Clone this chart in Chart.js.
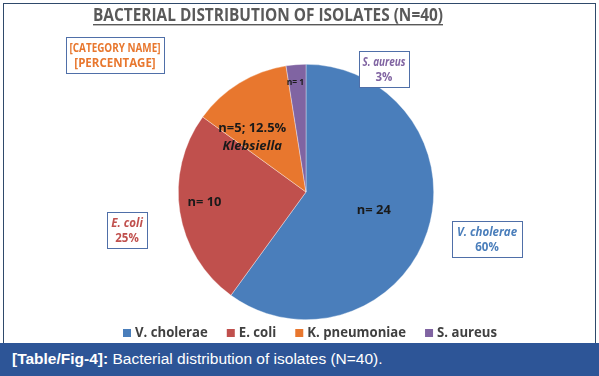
<!DOCTYPE html>
<html>
<head>
<meta charset="utf-8">
<script src="https://cdn.jsdelivr.net/npm/chart.js@4"></script>
<style>
  html, body { margin: 0; padding: 0; background: #fff; }
  #wrap { position: relative; width: 599px; height: 376px; overflow: hidden; }
  #frame { position: absolute; left: 3px; top: 3px; width: 591px; height: 340px; border: 1px solid #2f4a6b; border-bottom: none; pointer-events: none; }
  #chart { position: absolute; left: 0; top: 0; }
  #caption { position: absolute; left: 0; top: 343px; width: 599px; height: 33px; background: #2d5597; color: #fff;
    font: 15.5px "Liberation Sans", Arial, sans-serif; line-height: 31px; padding-left: 12px; box-sizing: border-box; }
  #caption b { font-weight: bold; }
</style>
</head>
<body>
<div id="wrap">
  <canvas id="chart" width="599" height="343"></canvas>
  <div id="frame"></div>
  <div id="caption"><b>[Table/Fig-4]:</b> Bacterial distribution of isolates (N=40).</div>
</div>
<script>
// bacterial isolates, counts out of N=40
const species = ["V. cholerae", "E. coli", "K. pneumoniae", "S. aureus"];
const counts = [24, 10, 5, 1];
const colors = ["#4a7ebb", "#c0504d", "#e8772e", "#8064a2"];

const FONT = "'Open Sans', 'Noto Sans', sans-serif";

function pct(i) {
  const total = counts.reduce((a, b) => a + b, 0);
  return counts[i] / total * 100;
}

// labels inside slices: [radius fraction, angle shift in degrees]
const inside = [
  { lines: [["n= " + counts[0], "bold 13px"]], at: [0.55, -3] },
  { lines: [["n= " + counts[1], "bold 13px"]], at: [0.8, 3] },
  { lines: [["n=" + counts[2] + "; " + pct(2).toFixed(1) + "%", "bold 13px"], ["Klebsiella", "italic bold 13px"]], at: [0.6, -13] },
  { lines: [["n= " + counts[3], "bold 8.5px"]], at: [0.86, -1] },
];

// callout boxes: x, y, w, h
const callouts = [
  { idx: 0, box: [452, 221, 70, 36], name: species[0] },
  { idx: 1, box: [107, 212, 40, 36], name: species[1] },
  { idx: 2, box: [66, 37, 98, 36], name: "[CATEGORY NAME]", perc: "[PERCENTAGE]", upright: true },
  { idx: 3, box: [359, 51, 50, 36], name: species[3] },
];

// squeeze text to a target width (mimics the narrow original face)
function fitText(ctx, txt, x, y, maxW) {
  const w = ctx.measureText(txt).width;
  if (w <= maxW) { ctx.fillText(txt, x, y); return w; }
  ctx.save();
  ctx.translate(x, y);
  ctx.scale(maxW / w, 1);
  ctx.fillText(txt, 0, 0);
  ctx.restore();
  return maxW;
}

const overlay = {
  id: "overlay",
  afterDraw(chart) {
    const ctx = chart.ctx;
    const arcs = chart.getDatasetMeta(0).data;
    ctx.save();

    // title
    const title = "BACTERIAL DISTRIBUTION OF ISOLATES (N=40)";
    ctx.font = "bold 17px " + FONT;
    ctx.fillStyle = "#595959";
    ctx.textAlign = "center";
    ctx.textBaseline = "middle";
    const tw = fitText(ctx, title, 268, 16, 350);
    ctx.fillRect(268 - tw / 2, 24, tw, 1.4);

    // slice labels
    ctx.fillStyle = "#1a1a1a";
    inside.forEach((lab, i) => {
      const a = arcs[i];
      const mid = (a.startAngle + a.endAngle) / 2 + lab.at[1] * Math.PI / 180;
      const r = a.outerRadius * lab.at[0];
      const cx = a.x + Math.cos(mid) * r;
      const cy = a.y + Math.sin(mid) * r;
      const lh = 18;
      lab.lines.forEach((ln, j) => {
        ctx.font = ln[1] + " " + FONT;
        fitText(ctx, ln[0], cx, cy + (j - (lab.lines.length - 1) / 2) * lh, ln[0].length * 6.8);
      });
    });

    // callouts
    callouts.forEach(c => {
      const [x, y, w, h] = c.box;
      ctx.fillStyle = "#fff";
      ctx.fillRect(x, y, w, h);
      ctx.strokeStyle = "#4f6fa8";
      ctx.lineWidth = 1;
      ctx.strokeRect(x + 0.5, y + 0.5, w, h);
      ctx.fillStyle = colors[c.idx];
      ctx.font = (c.upright ? "bold 11.5px " : "italic bold 11.5px ") + FONT;
      fitText(ctx, c.name, x + w / 2, y + 12, w - 7);
      ctx.font = "bold 11.5px " + FONT;
      fitText(ctx, c.perc || Math.round(pct(c.idx)) + "%", x + w / 2, y + 27, w - 7);
    });

    // legend, squeezed to the original span (123..497)
    ctx.font = "bold 13.5px " + FONT;
    const gap = 19, box = 8, tgap = 4, span = 374;
    const nat = species.map(s => ctx.measureText(s).width);
    const natSum = nat.reduce((a, b) => a + b, 0);
    const k = Math.min(1, (span - gap * (species.length - 1) - species.length * (box + tgap)) / natSum);
    const txtW = nat.map(t => t * k);
    let lx = 123;
    const ly = 333;
    ctx.textAlign = "left";
    species.forEach((s, i) => {
      ctx.fillStyle = colors[i];
      ctx.fillRect(lx, ly - box / 2, box, box);
      ctx.fillStyle = "#404040";
      fitText(ctx, s, lx + box + tgap, ly + 0.5, txtW[i]);
      lx += box + tgap + txtW[i] + gap;
    });

    ctx.restore();
  }
};

new Chart(document.getElementById("chart"), {
  type: "pie",
  data: {
    labels: species,
    datasets: [{
      data: counts,
      backgroundColor: colors,
      borderColor: "rgba(255,255,255,0.6)",
      borderWidth: 0.6,
    }],
  },
  options: {
    responsive: false,
    animation: false,
    layout: { padding: { top: 64, left: 13, right: 0, bottom: 23 } },
    plugins: {
      legend: { display: false },
      tooltip: { enabled: false },
    },
  },
  plugins: [overlay],
});
</script>
</body>
</html>
